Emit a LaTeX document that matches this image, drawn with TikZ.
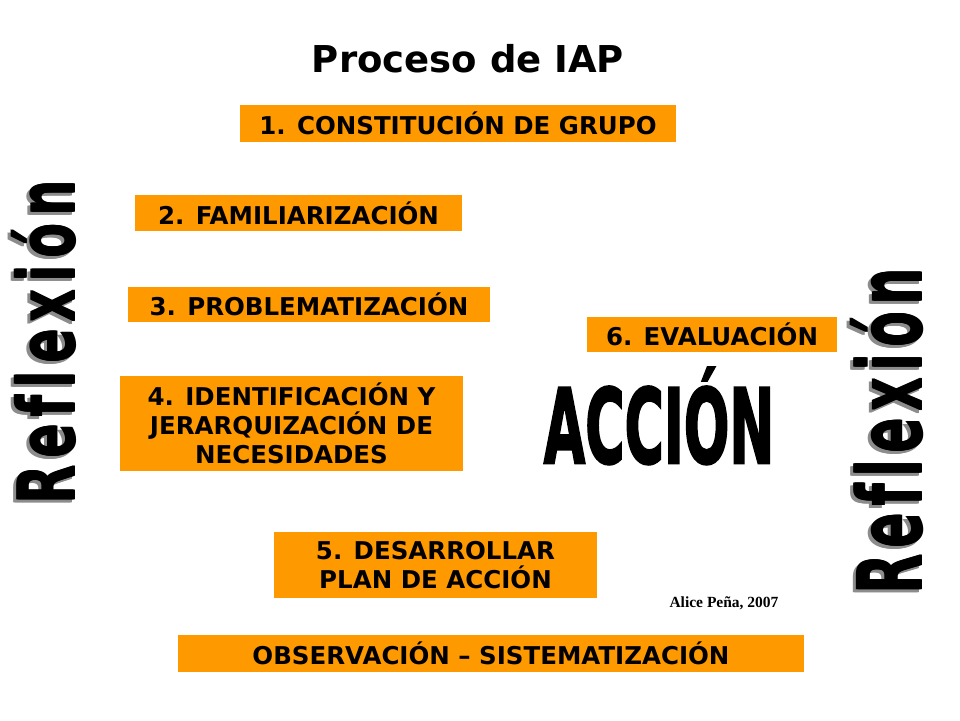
\documentclass[tikz,border=0pt]{standalone}
\usepackage{fontspec}
\setmainfont{DejaVu Sans}
\newfontfamily\serifname{Liberation Serif}
\newfontfamily\heavyfont[BoldFeatures={FakeBold=2.5}]{DejaVu Sans}
\definecolor{boxorange}{RGB}{255,153,0}
\definecolor{shadowgray}{RGB}{140,140,140}
\tikzset{
  stepbox/.style={fill=boxorange, inner sep=0pt, align=center,
    font=\bfseries\fontsize{24.5}{29}\selectfont},
  bigword/.style={inner sep=0pt, rotate=90, anchor=base west,
    font=\bfseries\fontsize{#1}{#1}\selectfont},
}
\newcommand\reflword{R\kern10pt e\kern10pt f\kern10pt l\kern10pt e\kern10pt x\kern10pt i\kern10pt ó\kern10pt n}
\begin{document}
\begin{tikzpicture}[x=1pt,y=-1pt]
\useasboundingbox[fill=white] (0,0) rectangle (960,720);
% title
\node[inner sep=0pt, anchor=base, font=\bfseries\fontsize{37}{40}\selectfont] (title) at (468,72) {Proceso de IAP};
% boxes
\node[stepbox, minimum width=436pt, minimum height=37pt] (b1) at (458,123) {1. CONSTITUCIÓN DE GRUPO};
\node[stepbox, minimum width=327pt, minimum height=36pt] (b2) at (298.5,213) {2. FAMILIARIZACIÓN};
\node[stepbox, minimum width=362pt, minimum height=35pt] (b3) at (309,304.5) {3. PROBLEMATIZACIÓN};
\node[stepbox, minimum width=343pt, minimum height=95pt] (b4) at (291.5,423.5) {4. IDENTIFICACIÓN Y\\JERARQUIZACIÓN DE\\NECESIDADES};
\node[stepbox, minimum width=323pt, minimum height=66pt] (b5) at (435.5,565) {5. DESARROLLAR\\PLAN DE ACCIÓN};
\node[stepbox, minimum width=250pt, minimum height=35pt] (b6) at (712,334.5) {6. EVALUACIÓN};
\node[stepbox, minimum width=626pt, minimum height=37pt] (obs) at (491,653.5) {OBSERVACIÓN – SISTEMATIZACIÓN};
% ACCION
\node[inner sep=0pt, anchor=base, font=\heavyfont\bfseries\fontsize{80}{80}\selectfont] (accion) at (659,463) {\scalebox{0.67}[1.29]{ACCIÓN}};
% Reflexion left: shadow, then black word thickened by overlaid copies
\foreach \d in {0,1,2} {
  \node[bigword=78, text=shadowgray] at (72-\d,508) {\scalebox{0.66}[1]{\reflword}};
}
\foreach \d in {1,2} {
  \node[bigword=78] at (75-\d,505) {\scalebox{0.66}[1]{\reflword}};
}
\node[bigword=78] (reflL) at (75,505) {\scalebox{0.66}[1]{\reflword}};
% Reflexion right
\foreach \d in {0,1,2} {
  \node[bigword=88, text=shadowgray] at (919-\d,598) {\scalebox{0.6}[1]{\reflword}};
}
\foreach \d in {1,2} {
  \node[bigword=88] at (922-\d,595) {\scalebox{0.6}[1]{\reflword}};
}
\node[bigword=88] (reflR) at (922,595) {\scalebox{0.6}[1]{\reflword}};
% author
\node[inner sep=0pt, anchor=base, font=\serifname\bfseries\fontsize{15.5}{18}\selectfont] (author) at (724,607) {Alice Peña, 2007};
\end{tikzpicture}
\end{document}
